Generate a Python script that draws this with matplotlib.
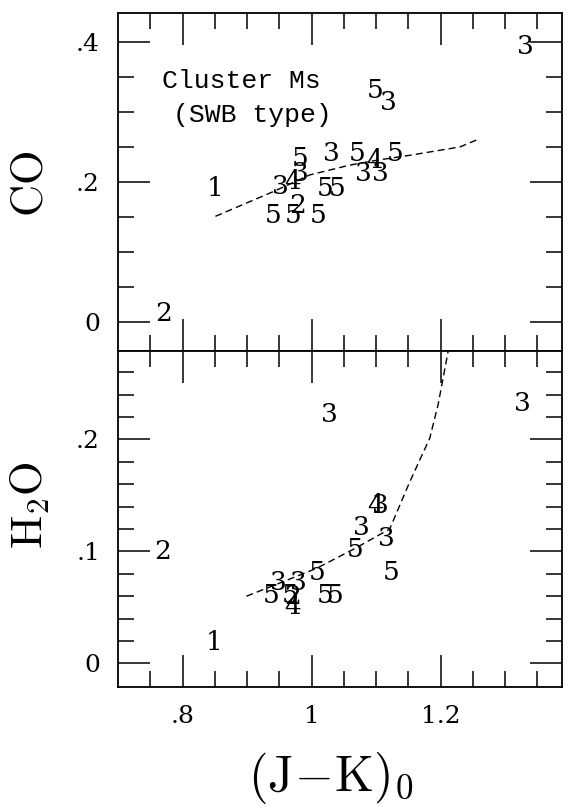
import matplotlib
matplotlib.use("Agg")
import matplotlib.pyplot as plt
from matplotlib.ticker import FixedLocator, FixedFormatter

# ---- data ----
co_labels = ["3", "5", "3", "1", "2",
             "5", "3", "4", "3",
             "3", "5", "4", "5",
             "3", "3", "5", "5",
             "5", "5", "2", "5"]
co_x = [1.331, 1.099, 1.119, 0.851, 0.770,
        0.982, 0.982, 0.970, 0.951,
        1.031, 1.070, 1.098, 1.129,
        1.080, 1.106, 1.021, 1.039,
        0.940, 0.971, 0.979, 1.010]
co_y = [0.393, 0.331, 0.314, 0.191, 0.013,
        0.234, 0.212, 0.200, 0.193,
        0.241, 0.241, 0.231, 0.241,
        0.212, 0.212, 0.191, 0.191,
        0.152, 0.152, 0.167, 0.152]

h2o_labels = ["3", "3", "2", "1",
              "4", "3", "3", "3", "5", "5", "5",
              "3", "3", "5", "5", "2", "4", "5", "5"]
h2o_x = [1.028, 1.327, 0.769, 0.849,
         1.099, 1.107, 1.078, 1.116, 1.067, 1.124, 1.008,
         0.949, 0.979, 0.938, 0.966, 0.971, 0.971, 1.021, 1.036]
h2o_y = [0.222, 0.232, 0.100, 0.019,
         0.141, 0.141, 0.121, 0.112, 0.102, 0.081, 0.081,
         0.072, 0.072, 0.061, 0.061, 0.060, 0.051, 0.061, 0.061]

co_line_x = [0.851, 0.940, 0.997, 1.059, 1.101, 1.152, 1.230, 1.261]
co_line_y = [0.151, 0.186, 0.210, 0.224, 0.231, 0.238, 0.250, 0.262]

h2o_line_x = [0.899, 0.956, 1.008, 1.065, 1.121, 1.152, 1.183, 1.196, 1.212]
h2o_line_y = [0.060, 0.073, 0.085, 0.102, 0.120, 0.162, 0.201, 0.231, 0.280]

x_major = [0.8, 1.0, 1.2]
x_major_labels = [".8", "1", "1.2"]
x_minor = [0.75, 0.85, 0.9, 0.95, 1.05, 1.1, 1.15, 1.25, 1.3, 1.35]

co_major = [0.0, 0.2, 0.4]
co_major_labels = ["0", ".2", ".4"]
co_minor = [0.05, 0.1, 0.15, 0.25, 0.3, 0.35]

h2o_major = [0.0, 0.1, 0.2]
h2o_major_labels = ["0", ".1", ".2"]
h2o_minor = [0.02, 0.04, 0.06, 0.08, 0.12, 0.14, 0.16, 0.18, 0.22, 0.24, 0.26]

# ---- figure ----
plt.rcParams["mathtext.fontset"] = "cm"
plt.rcParams["font.family"] = ["DejaVu Serif"]

fig = plt.figure(figsize=(5.73, 8.10), dpi=100)
ax1 = fig.add_axes([0.2059, 0.5667, 0.7749, 0.4173])
ax2 = fig.add_axes([0.2059, 0.1519, 0.7749, 0.4148], sharex=ax1)

digit_fs = 19

for ax in (ax1, ax2):
    ax.set_xlim(0.700, 1.388)
    for s in ax.spines.values():
        s.set_linewidth(1.3)
    ax.xaxis.set_major_locator(FixedLocator(x_major))
    ax.xaxis.set_minor_locator(FixedLocator(x_minor))
    ax.tick_params(which="both", direction="in", top=True, right=True,
                   width=1.1, colors="black", labelsize=18)
    ax.tick_params(which="major", length=23, pad=13)
    ax.tick_params(which="minor", length=11.5)

# top panel: CO
ax1.set_ylim(-0.041, 0.441)
ax1.yaxis.set_major_locator(FixedLocator(co_major))
ax1.yaxis.set_major_formatter(FixedFormatter(co_major_labels))
ax1.yaxis.set_minor_locator(FixedLocator(co_minor))
ax1.tick_params(axis="x", labelbottom=False)
ax1.plot(co_line_x, co_line_y, color="black", lw=1.0, ls=(0, (5, 3)))
for t, x, y in zip(co_labels, co_x, co_y):
    ax1.text(x, y, t, ha="center", va="center", fontsize=digit_fs)
ax1.text(0.279, 0.80, "Cluster Ms", transform=ax1.transAxes, ha="center",
         va="center", fontsize=19, family=["Liberation Mono"])
ax1.text(0.302, 0.698, "(SWB type)", transform=ax1.transAxes, ha="center",
         va="center", fontsize=19, family=["Liberation Mono"])
ax1.set_ylabel(r"$\mathrm{CO}$", fontsize=32, va="center")
ax1.yaxis.set_label_coords(-0.198, 0.494)

# bottom panel: H2O
ax2.set_ylim(-0.021, 0.279)
ax2.yaxis.set_major_locator(FixedLocator(h2o_major))
ax2.yaxis.set_major_formatter(FixedFormatter(h2o_major_labels))
ax2.yaxis.set_minor_locator(FixedLocator(h2o_minor))
ax2.xaxis.set_major_formatter(FixedFormatter(x_major_labels))
ax2.plot(h2o_line_x, h2o_line_y, color="black", lw=1.0, ls=(0, (5, 3)),
         clip_on=True)
for t, x, y in zip(h2o_labels, h2o_x, h2o_y):
    ax2.text(x, y, t, ha="center", va="center", fontsize=digit_fs)
ax2.set_ylabel(r"$\mathrm{H_2O}$", fontsize=32, va="center")
ax2.yaxis.set_label_coords(-0.198, 0.54)
ax2.set_xlabel(r"$(\mathrm{J}\!-\!\mathrm{K})_0$", fontsize=36, va="center")
ax2.xaxis.set_label_coords(0.48, -0.272)

fig.savefig("out.png", dpi=100)
